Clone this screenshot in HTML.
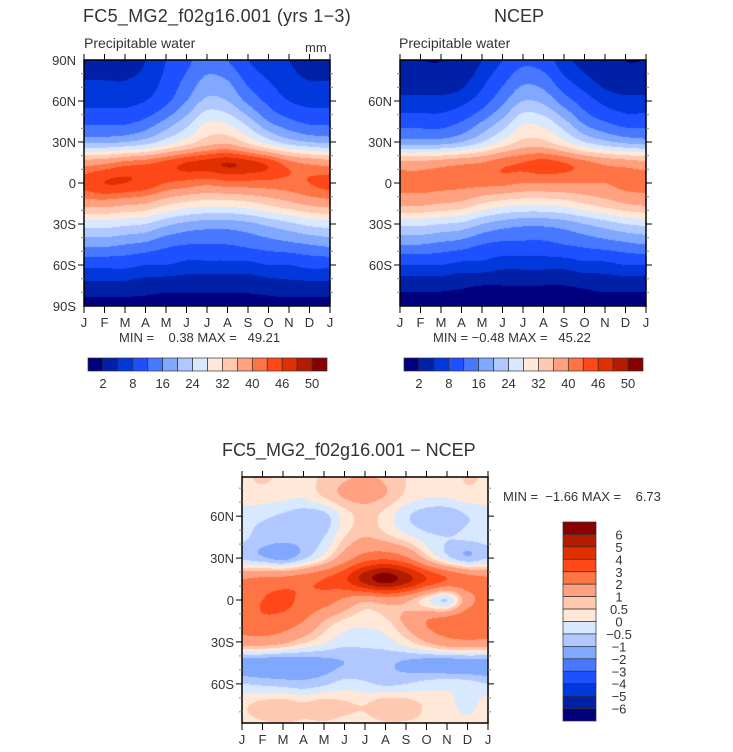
<!DOCTYPE html>
<html><head><meta charset="utf-8"><style>
body{margin:0;background:#fff;width:733px;height:752px;position:relative;overflow:hidden;font-family:"Liberation Sans",sans-serif;color:#333}
.t{position:absolute;white-space:nowrap}
canvas{position:absolute}
svg{position:absolute;left:0;top:0}
</style></head><body>
<div class="t" style="left:83px;top:6px;font-size:18px;letter-spacing:0.3px">FC5_MG2_f02g16.001 (yrs 1−3)</div>
<div class="t" style="left:494px;top:6px;font-size:18px">NCEP</div>
<div class="t" style="left:84px;top:35px;font-size:14px">Precipitable water</div>
<div class="t" style="left:305px;top:40px;font-size:13px">mm</div>
<div class="t" style="left:399px;top:35px;font-size:14px">Precipitable water</div>
<div class="t" style="left:119px;top:330px;font-size:13px">MIN =&nbsp;&nbsp;&nbsp; 0.38 MAX =&nbsp;&nbsp; 49.21</div>
<div class="t" style="left:433px;top:330px;font-size:13px">MIN = −0.48 MAX =&nbsp;&nbsp; 45.22</div>
<div class="t" style="left:222px;top:440px;font-size:18px">FC5_MG2_f02g16.001 − NCEP</div>
<div class="t" style="left:503px;top:489px;font-size:13px">MIN =&nbsp; −1.66 MAX =&nbsp;&nbsp;&nbsp; 6.73</div>
<canvas id="c1" width="246" height="246" style="left:84px;top:60px"></canvas>
<canvas id="c2" width="246" height="246" style="left:400px;top:60px"></canvas>
<canvas id="c3" width="246" height="246" style="left:242px;top:477px"></canvas>
<svg id="ov" width="733" height="752"></svg>
<script>
const months=["J","F","M","A","M","J","J","A","S","O","N","D","J"];
const colors=["#00007f","#0020a8","#0038dc","#1e50ff","#4878ff","#80a8ff","#b0c8ff","#d8e8ff","#ffe8d8","#ffc8b0","#ffa080","#ff7444","#ff4818","#e03000","#b41c00","#880000"];
const pwLevels=[2,5,8,12,16,20,24,28,32,36,40,43,46,48,50];
const pwLabels=["2","8","16","24","32","40","46","50"];
const diffLevels=[-6,-5,-4,-3,-2,-1,-0.5,0,0.5,1,2,3,4,5,6];
const diffLabels=["6","5","4","3","2","1","0.5","0","−0.5","−1","−2","−3","−4","−5","−6"];
// rows: 90N..90S step 15 ; cols J..J
const modelPW=[
[4,4,4,5,8,11,14,12,8,6,5,4,4],
[5,5,5,6,9,13,17,16,11,8,6,5,5],
[7,7,7,8,11,16,21,20,15,11,8,7,7],
[11,11,11,13,17,22,28,27,22,16,13,11,11],
[19,19,20,22,26,30,34,35,31,26,22,20,19],
[38,39,41,42,44,46,47,48,47,45,41,39,38],
[44,46,46,45,43,42,41,42,42,42,42,43,44],
[38,38,37,36,33,31,30,30,31,33,35,37,38],
[26,26,25,24,21,19,18,18,19,21,23,25,26],
[17,17,16,15,13,12,12,12,13,14,15,16,17],
[9,9,9,8,8,7,7,7,7,8,8,9,9],
[4,4,4,3.5,3,3,3,3,3,3.5,4,4,4],
[1,1,1,1,1,1,1,1,1,1,1,1,1]];
const ncepPW=[
[2,2,2,3,5,8,11,10,6,4,3,2,2],
[3,3,3,4,7,11,15,14,9,6,4,3,3],
[6,6,6,7,10,15,20,19,14,10,7,6,6],
[10,10,10,12,16,21,27,26,21,15,12,10,10],
[18,18,18,20,24,29,33,33,29,24,21,19,18],
[37,37,38,39,40,42,43,44,43,41,39,38,37],
[41,41,41,41,41,41,40,40,40,40,40,41,41],
[37,37,36,35,32,30,29,29,30,32,34,36,37],
[25,25,24,23,20,18,17,17,18,20,22,24,25],
[16,16,15,14,12,11,11,11,12,13,14,15,16],
[8,8,8,7,7,6,6,6,6,7,7,8,8],
[3,3,3,2.5,2,2,2,2,2,2.5,3,3,3],
[0.5,0.5,0.5,0.5,0.5,0.5,0.5,0.5,0.5,0.5,0.5,0.5,0.5]];
const diffPW=[
[0.4,0.6,0.4,0.3,0.6,0.9,1.0,0.9,0.5,0.3,0.2,0.6,0.4],
[0.3,0.3,0.2,0.1,0.6,1.1,1.2,1.0,0.4,0.1,0.1,0.3,0.3],
[-0.3,-0.4,-0.6,-0.8,-0.7,0.2,0.7,0.3,-0.4,-0.8,-0.9,-0.5,-0.3],
[-0.4,-0.7,-0.8,-0.8,-0.5,0.5,1.0,0.7,0.2,-0.3,-0.5,-0.4,-0.3],
[-0.6,-0.9,-1.2,-0.6,0.3,1.5,2.5,2.8,2.2,0.8,-0.3,-0.9,-0.5],
[2.0,2.2,2.3,2.6,3.0,3.8,5.5,6.5,5.5,4.0,3.0,2.5,2.2],
[2.5,3.0,3.2,2.8,2.5,1.8,1.2,1.5,1.2,0.2,-0.5,1.5,2.5],
[2.5,2.8,2.6,2.0,1.0,0.4,0.2,0.4,1.2,2.0,2.5,2.8,2.7],
[1.5,1.5,1.2,0.6,0.1,-0.3,-0.3,-0.2,0.3,1.0,1.6,1.8,1.7],
[-1.4,-1.5,-1.6,-1.4,-1.2,-1.0,-0.9,-0.9,-1.1,-1.3,-1.4,-1.4,-1.4],
[-0.5,-0.6,-0.7,-0.8,-0.6,-0.3,-0.4,-0.6,-0.5,-0.3,-0.2,-0.3,-0.5],
[0.4,0.7,0.8,0.6,0.8,0.6,0.5,0.9,0.8,0.4,0.2,-0.2,0.3],
[0.3,0.4,0.5,0.4,0.4,0.3,0.3,0.4,0.4,0.3,0.2,0.2,0.3]];

function cr(p0,p1,p2,p3,t){return 0.5*((2*p1)+(-p0+p2)*t+(2*p0-5*p1+4*p2-p3)*t*t+(-p0+3*p1-3*p2+p3)*t*t*t);}
function sample(g,m,lat){const r=(90-lat)/15;const r0=Math.max(0,Math.min(11,Math.floor(r)));const c0=Math.max(0,Math.min(11,Math.floor(m)));
const fr=r-r0,fc=m-c0;const R=i=>g[Math.max(0,Math.min(12,i))];const C=(row,j)=>row[Math.max(0,Math.min(12,j))];
const rows=[-1,0,1,2].map(k=>{const row=R(r0+k);return cr(C(row,c0-1),C(row,c0),C(row,c0+1),C(row,c0+2),fc);});
return cr(rows[0],rows[1],rows[2],rows[3],fr);}
function colorFor(v,lv){let i=0;while(i<lv.length&&v>=lv[i])i++;return colors[i];}
function draw(id,g,lv,latTop,latBot){const cv=document.getElementById(id),ctx=cv.getContext('2d');const W=cv.width,H=cv.height;
for(let y=0;y<H;y++){const lat=latTop-(y+0.5)/H*(latTop-latBot);for(let x=0;x<W;x++){const m=(x+0.5)/W*12;ctx.fillStyle=colorFor(sample(g,m,lat),lv);ctx.fillRect(x,y,1,1);}}}
draw('c1',modelPW,pwLevels,90,-90);
draw('c2',ncepPW,pwLevels,90,-90);
draw('c3',diffPW,diffLevels,88,-88);

const NS="http://www.w3.org/2000/svg";const ov=document.getElementById('ov');
function el(t,a,txt){const e=document.createElementNS(NS,t);for(const k in a)e.setAttribute(k,a[k]);if(txt!==undefined)e.textContent=txt;ov.appendChild(e);return e;}
function axes(name,x0,y0,w,h,latTop,latBot,latLabels){
const b=el('rect',{x:x0,y:y0,width:w,height:h,fill:'none',stroke:'#000','stroke-width':1.5});

const ly=l=>y0+(latTop-l)/(latTop-latBot)*h;
for(let l=-80;l<=80;l+=10){const y=ly(l);if(y<y0||y>y0+h)continue;const maj=l%30===0;
el('line',{x1:x0-(maj?6:3),y1:y,x2:x0,y2:y,stroke:maj?'#000':'#888','stroke-width':1});
el('line',{x1:x0+w,y1:y,x2:x0+w+(maj?6:3),y2:y,stroke:maj?'#000':'#888','stroke-width':1});}
latLabels.forEach(L=>{const t=el('text',{x:x0-8,y:ly(L[0])+5,'text-anchor':'end','font-size':13,fill:'#333','font-family':'Liberation Sans'},L[1]);
});
months.forEach((m,i)=>{const x=x0+i*w/12;el('line',{x1:x,y1:y0+h,x2:x,y2:y0+h+7,stroke:'#000'});el('line',{x1:x,y1:y0,x2:x,y2:y0-6,stroke:'#000'});
const t=el('text',{x:x,y:y0+h+21,'text-anchor':'middle','font-size':13,fill:'#333','font-family':'Liberation Sans'},m);
});}
axes('model',84,60,246,246,90,-90,[[90,'90N'],[60,'60N'],[30,'30N'],[0,'0'],[-30,'30S'],[-60,'60S'],[-90,'90S']]);
axes('ncep',400,60,246,246,90,-90,[[60,'60N'],[30,'30N'],[0,'0'],[-30,'30S'],[-60,'60S']]);
axes('diff',242,477,246,246,88,-88,[[60,'60N'],[30,'30N'],[0,'0'],[-30,'30S'],[-60,'60S']]);
function hbar(name,x0,y0,w,h){const bw=w/colors.length;colors.forEach((c,i)=>{const r=el('rect',{x:x0+i*bw,y:y0,width:bw,height:h,fill:c,stroke:'#333','stroke-width':0.7});
});
pwLabels.forEach((s,j)=>{const t=el('text',{x:x0+(2*j+1)*bw,y:y0+h+17,'text-anchor':'middle','font-size':13,fill:'#333','font-family':'Liberation Sans'},s);
});}
hbar('model-colorbar',88,358,239,13);
hbar('ncep-colorbar',404,358,239,13);
const vb=[...colors].reverse();const bh=199/16;
vb.forEach((c,i)=>{const r=el('rect',{x:563,y:522+i*bh,width:33,height:bh,fill:c,stroke:'#333','stroke-width':0.7});
});
diffLabels.forEach((s,j)=>{const t=el('text',{x:619,y:522+(j+1)*bh+5,'text-anchor':'middle','font-size':13,fill:'#333','font-family':'Liberation Sans'},s);
});
</script>
</body></html>
